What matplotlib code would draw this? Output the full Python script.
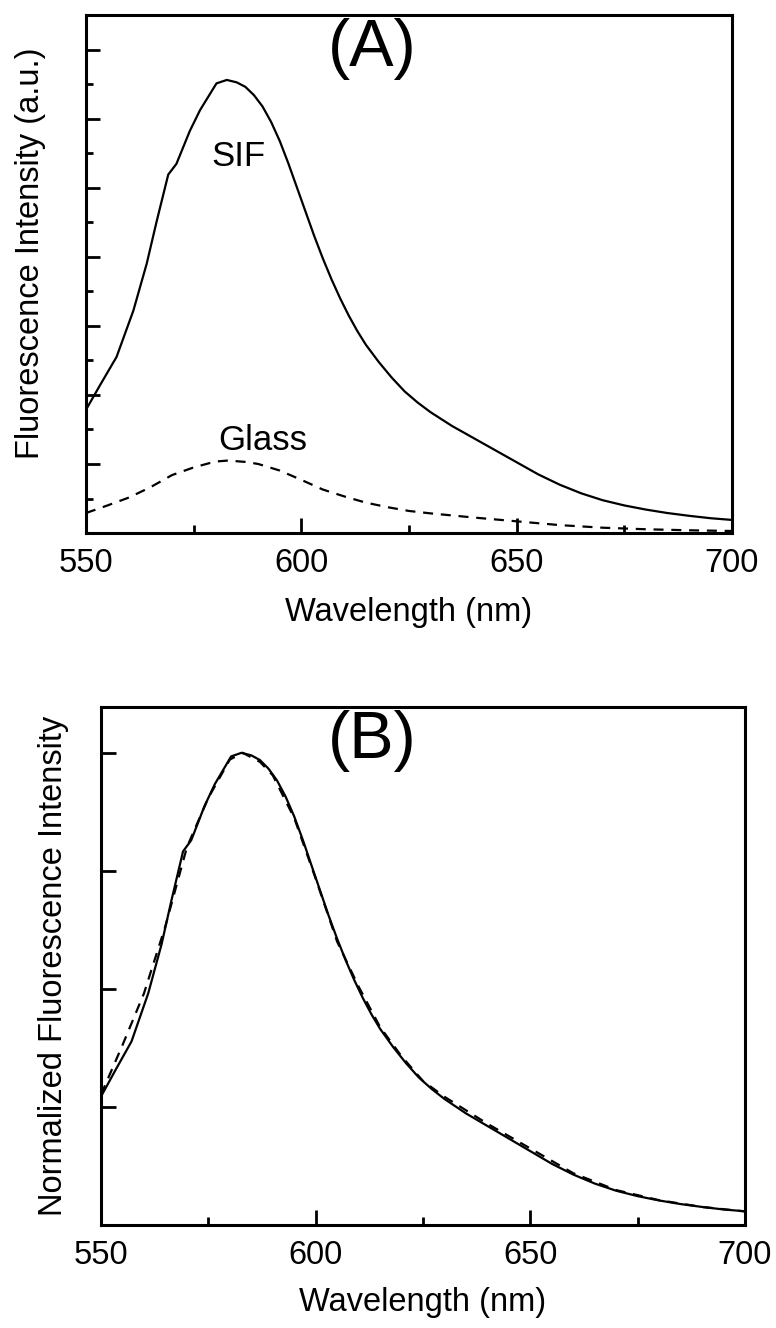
import matplotlib
matplotlib.use("Agg")
import matplotlib.pyplot as plt
import numpy as np
from matplotlib.ticker import MultipleLocator

plt.rcParams['font.family'] = ['Liberation Sans', 'DejaVu Sans']

# ---- Data ----
wl_sif = [550, 553.3, 557.1, 561, 564.1, 566.4, 569.1, 571.0, 574.1, 576.5, 580.3,
          582.7, 585, 587, 589, 591, 593, 595, 597, 599, 601, 603, 605, 607, 609,
          611, 613, 615, 618, 621, 624, 627, 630, 635, 640, 645, 650, 655, 660,
          665, 670, 675, 680, 685, 690, 695, 700]
sif = [3.57, 4.29, 5.1, 6.44, 7.8, 9.02, 10.38, 10.69, 11.64, 12.25, 13.02,
       13.12, 13.05, 12.92, 12.68, 12.35, 11.9, 11.35, 10.7, 10.0, 9.3, 8.6, 7.95, 7.35, 6.8,
       6.3, 5.85, 5.45, 4.95, 4.5, 4.1, 3.78, 3.5, 3.1, 2.75, 2.4, 2.05, 1.7, 1.4,
       1.15, 0.95, 0.8, 0.68, 0.58, 0.5, 0.43, 0.38]

wl_glass = [550, 555, 560, 565, 570, 575, 580, 583, 587, 590, 595, 600, 605, 610,
            615, 620, 625, 630, 640, 650, 660, 670, 680, 690, 700]
glass = [0.58, 0.8, 1.03, 1.33, 1.68, 1.9, 2.07, 2.1, 2.06, 2.0, 1.81, 1.54, 1.26, 1.06,
         0.88, 0.75, 0.64, 0.57, 0.45, 0.34, 0.23, 0.155, 0.11, 0.08, 0.06]

x_ticks = [550, 600, 650, 700]

# ---- Figure ----
fig = plt.figure(figsize=(7.76, 13.28), dpi=100)
axA = fig.add_axes([0.1108, 0.5986, 0.8325, 0.3901])
axB = fig.add_axes([0.1302, 0.0776, 0.8299, 0.3900])

lw = 1.6
dash = (0, (4.5, 3.5))
fs = 23.5

axA.plot(wl_sif, sif, color='black', lw=lw)
axA.plot(wl_glass, glass, color='black', lw=lw, linestyle=dash)
axA.set_xlim(550, 700)
axA.set_ylim(0, 15)
axA.text(0.443, 0.935, '(A)', transform=axA.transAxes, fontsize=48,
         ha='center', va='center')
axA.text(585.3, 10.9, 'SIF', fontsize=25, ha='center', va='center')
axA.text(591.1, 2.68, 'Glass', fontsize=25, ha='center', va='center')
axA.set_ylabel('Fluorescence Intensity (a.u.)', fontsize=fs)
axA.set_xlabel('Wavelength (nm)', fontsize=fs)
axA.yaxis.set_major_locator(MultipleLocator(2))
axA.yaxis.set_minor_locator(MultipleLocator(1))
axA.set_yticklabels([])
axA.yaxis.set_label_coords(-0.062, 0.54)
axA.xaxis.set_label_coords(0.5, -0.123)

sif_n = np.array(sif) / max(sif)
glass_n = np.array(glass) / max(glass)
axB.plot(wl_sif, sif_n, color='black', lw=lw)
axB.plot(wl_glass, glass_n, color='black', lw=lw, linestyle=dash)
axB.set_xlim(550, 700)
axB.set_ylim(0, 1.097)
axB.text(0.421, 0.935, '(B)', transform=axB.transAxes, fontsize=48,
         ha='center', va='center')
axB.set_ylabel('Normalized Fluorescence Intensity', fontsize=fs)
axB.set_xlabel('Wavelength (nm)', fontsize=fs)
axB.yaxis.set_major_locator(MultipleLocator(0.25))
axB.set_yticklabels([])
axB.yaxis.set_label_coords(-0.05, 0.5)
axB.xaxis.set_label_coords(0.5, -0.12)

for ax in (axA, axB):
    ax.set_xticks(x_ticks)
    ax.set_xticklabels([str(t) for t in x_ticks])
    ax.xaxis.set_minor_locator(MultipleLocator(25))
    ax.tick_params(which='major', direction='in', length=11, width=2,
                   labelsize=fs, pad=11)
    ax.tick_params(which='minor', direction='in', length=6, width=2)
    for s in ax.spines.values():
        s.set_linewidth(2.2)

axA.tick_params(axis='y', which='major', length=10)
axA.tick_params(axis='y', which='minor', length=5)

fig.savefig('out.png', dpi=100)
